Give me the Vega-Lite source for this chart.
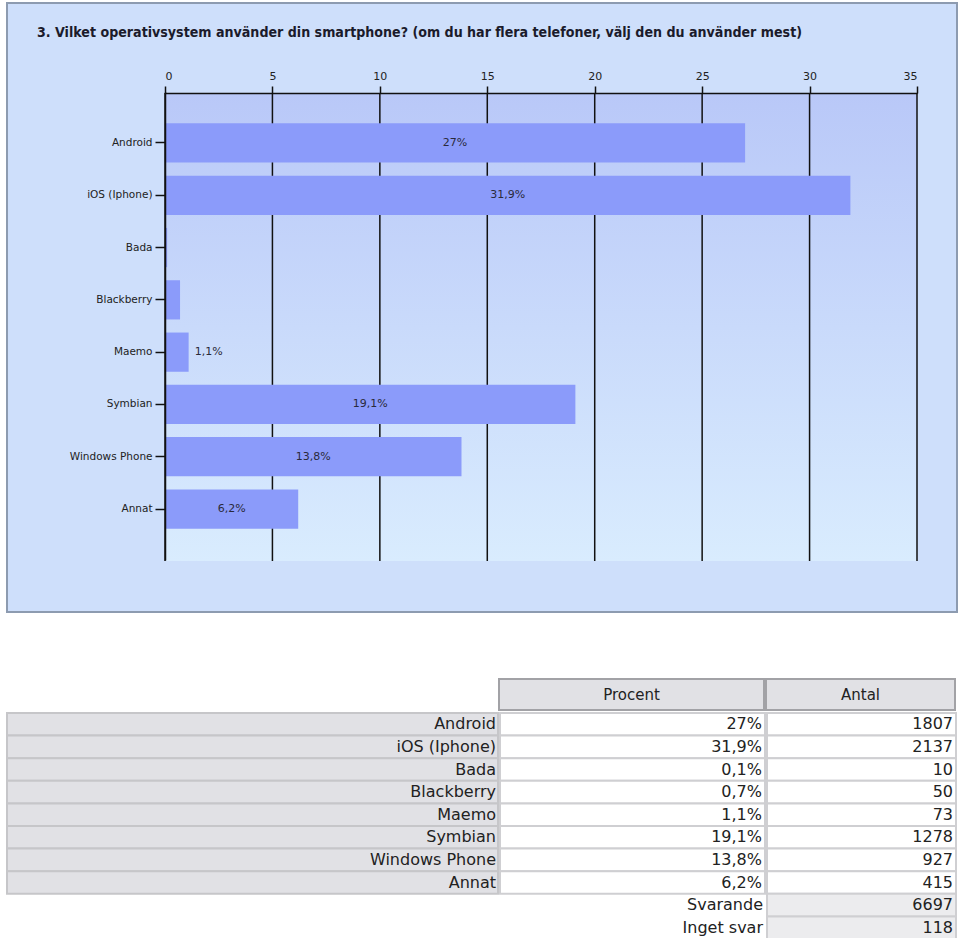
{
  "$schema": "https://vega.github.io/schema/vega-lite/v6.json",
  "background": "white",
  "padding": {"left": 6, "top": 2, "right": 0, "bottom": 0},
  "config": {
    "view": {"stroke": null},
    "font": "DejaVu Sans",
    "text": {"font": "DejaVu Sans"}
  },
  "datasets": {
    "os": [
      {"name": "Android", "pct": 27, "label": "27%", "n": "1807"},
      {"name": "iOS (Iphone)", "pct": 31.9, "label": "31,9%", "n": "2137"},
      {"name": "Bada", "pct": 0.1, "label": "0,1%", "n": "10"},
      {"name": "Blackberry", "pct": 0.7, "label": "0,7%", "n": "50"},
      {"name": "Maemo", "pct": 1.1, "label": "1,1%", "n": "73"},
      {"name": "Symbian", "pct": 19.1, "label": "19,1%", "n": "1278"},
      {"name": "Windows Phone", "pct": 13.8, "label": "13,8%", "n": "927"},
      {"name": "Annat", "pct": 6.2, "label": "6,2%", "n": "415"}
    ],
    "summary": [
      {"name": "Svarande", "n": "6697"},
      {"name": "Inget svar", "n": "118"}
    ],
    "ticks": [{"v": 0}, {"v": 5}, {"v": 10}, {"v": 15}, {"v": 20}, {"v": 25}, {"v": 30}, {"v": 35}],
    "frame": [{"part": "plot"}]
  },
  "spacing": 65,
  "vconcat": [
    {
      "width": 950,
      "height": 609,
      "view": {"fill": "#cedffb", "stroke": "#8d9bb0", "strokeWidth": 2},
      "title": {
        "text": "3. Vilket operativsystem använder din smartphone? (om du har flera telefoner, välj den du använder mest)",
        "anchor": "start",
        "frame": "group",
        "orient": "top",
        "offset": -44,
        "dx": 30,
        "baseline": "middle",
        "font": "DejaVu Sans Condensed",
        "fontSize": 14.1,
        "fontWeight": "bold",
        "color": "#1b1b2b"
      },
      "resolve": {"scale": {"x": "independent", "y": "independent"}},
      "layer": [
        {
          "layer": [
            {
              "data": {"name": "frame"},
              "mark": {
                "type": "rect",
                "fill": {
                  "gradient": "linear", "x1": 0, "y1": 0, "x2": 0, "y2": 1,
                  "stops": [
                    {"offset": 0, "color": "#b9c8f8"},
                    {"offset": 1, "color": "#d9ecfe"}
                  ]
                }
              },
              "encoding": {
                "x": {
                  "datum": 0, "type": "quantitative",
                  "scale": {"domain": [0, 35], "range": [158, 910]},
                  "axis": {
                    "orient": "bottom", "offset": -51,
                    "values": [0, 5, 10, 15, 20, 25, 30, 35],
                    "title": null, "grid": false,
                    "tickSize": 7, "tickWidth": 1.5, "tickColor": "#111",
                    "domainColor": "#111", "domainWidth": 1.5,
                    "labelFont": "DejaVu Sans", "labelFontSize": 11, "labelColor": "#222",
                    "labelPadding": 5, "zindex": 1
                  }
                },
                "x2": {"datum": 35},
                "y": {"datum": 0, "type": "quantitative", "scale": {"domain": [0, 1], "range": [558, 90]}, "axis": null},
                "y2": {"datum": 1}
              }
            },
            {
              "data": {"name": "ticks"},
              "mark": {"type": "rule", "color": "#111", "strokeWidth": 1.5},
              "encoding": {
                "x": {"field": "v", "type": "quantitative", "scale": {"domain": [0, 35], "range": [158, 910]}, "axis": null},
                "y": {"datum": 0, "type": "quantitative", "scale": {"domain": [0, 1], "range": [558, 90]}, "axis": null},
                "y2": {"datum": 1}
              }
            }
          ]
        },
        {
          "data": {"name": "os"},
          "resolve": {"scale": {"x": "independent"}},
          "encoding": {
            "y": {
              "field": "name", "type": "nominal", "sort": null,
              "scale": {
                "domain": ["Android", "iOS (Iphone)", "Bada", "Blackberry", "Maemo", "Symbian", "Windows Phone", "Annat"],
                "range": [89, 557], "paddingInner": 0.25, "paddingOuter": 0.6
              },
              "axis": {
                "orient": "left", "offset": -158, "title": null,
                "tickSize": 10, "tickWidth": 1.5, "tickColor": "#111",
                "domainColor": "#111", "domainWidth": 1.5,
                "labelFont": "DejaVu Sans", "labelFontSize": 10.5, "labelColor": "#222",
                "labelPadding": 3, "zindex": 1, "labelOverlap": false
              }
            }
          },
          "layer": [
            {
              "mark": {"type": "bar", "color": "#8b9bfa"},
              "encoding": {
                "x": {
                  "field": "pct", "type": "quantitative",
                  "scale": {"domain": [0, 35], "range": [158, 910]},
                  "axis": {
                    "orient": "top", "offset": -90,
                    "values": [0, 5, 10, 15, 20, 25, 30, 35],
                    "title": null, "grid": false,
                    "tickSize": 7, "tickWidth": 1.5, "tickColor": "#111",
                    "domainColor": "#111", "domainWidth": 1.5,
                    "labelFont": "DejaVu Sans", "labelFontSize": 11, "labelColor": "#222",
                    "labelPadding": 5, "zindex": 1
                  }
                }
              }
            },
            {
              "transform": [{"filter": "datum.pct >= 1 && datum.pct < 5"}],
              "mark": {"type": "text", "align": "left", "dx": 6, "fontSize": 11, "color": "#2a2a3a"},
              "encoding": {
                "x": {"field": "pct", "type": "quantitative", "scale": {"domain": [0, 35], "range": [158, 910]}, "axis": null},
                "text": {"field": "label"}
              }
            },
            {
              "transform": [{"filter": "datum.pct >= 5"}],
              "mark": {"type": "text", "align": "center", "fontSize": 11, "color": "#2a2a3a"},
              "encoding": {
                "x": {"field": "pct", "type": "quantitative", "scale": {"domain": [0, 70], "range": [158, 910]}, "axis": null},
                "text": {"field": "label"}
              }
            }
          ]
        }
      ]
    },
    {
      "spacing": 1,
      "vconcat": [
        {
          "spacing": 0,
          "hconcat": [
            {
              "width": 491, "height": 31,
              "data": {"values": [{"col": ""}]},
              "mark": {"type": "rect", "opacity": 0}
            },
            {
              "width": 265, "height": 31,
              "data": {"values": [{"col": "Procent"}]},
              "layer": [
                {"mark": {"type": "rect", "fill": "#e1e1e5", "stroke": "#a2a2a6", "strokeWidth": 2}},
                {
                  "mark": {"type": "text", "fontSize": 15, "color": "#222"},
                  "encoding": {
                    "x": {"field": "col", "type": "nominal", "axis": null},
                    "y": {"field": "col", "type": "nominal", "axis": null},
                    "text": {"field": "col"}
                  }
                }
              ]
            },
            {
              "width": 189, "height": 31,
              "data": {"values": [{"col": "Antal"}]},
              "layer": [
                {"mark": {"type": "rect", "fill": "#e1e1e5", "stroke": "#a2a2a6", "strokeWidth": 2}},
                {
                  "mark": {"type": "text", "fontSize": 15, "color": "#222"},
                  "encoding": {
                    "x": {"field": "col", "type": "nominal", "axis": null},
                    "y": {"field": "col", "type": "nominal", "axis": null},
                    "text": {"field": "col"}
                  }
                }
              ]
            }
          ]
        },
        {
          "spacing": 0,
          "hconcat": [
            {
              "width": 491, "height": 226,
              "data": {"name": "os"},
              "encoding": {
                "y": {
                  "field": "name", "type": "nominal", "sort": null, "axis": null,
                  "scale": {
                    "domain": ["Android", "iOS (Iphone)", "Bada", "Blackberry", "Maemo", "Symbian", "Windows Phone", "Annat", "Svarande", "Inget svar"],
                    "paddingInner": 0, "paddingOuter": 0
                  }
                }
              },
              "layer": [
                {"mark": {"type": "rect", "fill": "#e1e1e5", "stroke": "#c6c6c9", "strokeWidth": 2}},
                {
                  "mark": {"type": "text", "align": "right", "dx": -2, "fontSize": 16, "color": "#222"},
                  "encoding": {"x": {"value": "width"}, "text": {"field": "name"}}
                }
              ]
            },
            {
              "width": 265, "height": 226,
              "encoding": {
                "y": {
                  "field": "name", "type": "nominal", "sort": null, "axis": null,
                  "scale": {
                    "domain": ["Android", "iOS (Iphone)", "Bada", "Blackberry", "Maemo", "Symbian", "Windows Phone", "Annat", "Svarande", "Inget svar"],
                    "paddingInner": 0, "paddingOuter": 0
                  }
                }
              },
              "layer": [
                {
                  "data": {"name": "os"},
                  "layer": [
                    {"mark": {"type": "rect", "fill": "#ffffff", "stroke": "#cfcfd2", "strokeWidth": 2}},
                    {
                      "mark": {"type": "text", "align": "right", "dx": -3, "fontSize": 16, "color": "#222"},
                      "encoding": {"x": {"value": "width"}, "text": {"field": "label"}}
                    }
                  ]
                },
                {
                  "data": {"name": "summary"},
                  "mark": {"type": "text", "align": "right", "dx": -2, "fontSize": 16, "color": "#222"},
                  "encoding": {"x": {"value": "width"}, "text": {"field": "name"}}
                }
              ]
            },
            {
              "width": 189, "height": 226,
              "encoding": {
                "y": {
                  "field": "name", "type": "nominal", "sort": null, "axis": null,
                  "scale": {
                    "domain": ["Android", "iOS (Iphone)", "Bada", "Blackberry", "Maemo", "Symbian", "Windows Phone", "Annat", "Svarande", "Inget svar"],
                    "paddingInner": 0, "paddingOuter": 0
                  }
                }
              },
              "layer": [
                {
                  "data": {"name": "os"},
                  "layer": [
                    {"mark": {"type": "rect", "fill": "#ffffff", "stroke": "#cfcfd2", "strokeWidth": 2}},
                    {
                      "mark": {"type": "text", "align": "right", "dx": -3, "fontSize": 16, "color": "#222"},
                      "encoding": {"x": {"value": "width"}, "text": {"field": "n"}}
                    }
                  ]
                },
                {
                  "data": {"name": "summary"},
                  "layer": [
                    {"mark": {"type": "rect", "fill": "#ececee", "stroke": "#cfcfd2", "strokeWidth": 2}},
                    {
                      "mark": {"type": "text", "align": "right", "dx": -3, "fontSize": 16, "color": "#222"},
                      "encoding": {"x": {"value": "width"}, "text": {"field": "n"}}
                    }
                  ]
                }
              ]
            }
          ]
        }
      ]
    }
  ]
}
